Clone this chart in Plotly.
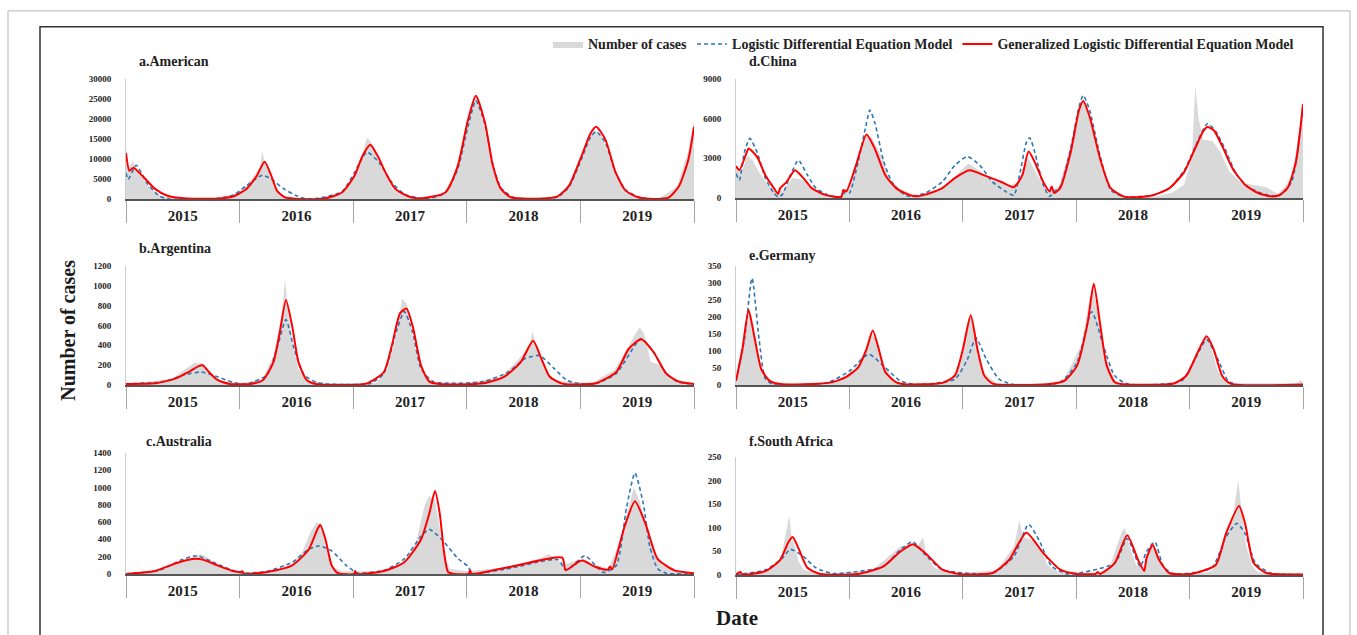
import plotly.graph_objects as go

# ---------------- data (t = years since start of 2015) ----------------
YEARS = ["2015", "2016", "2017", "2018", "2019"]

# a. American
a_obs_t = [0.00, 0.03, 0.06, 0.10, 0.15, 0.22, 0.30, 0.40, 0.60, 0.80, 0.95, 1.05, 1.12, 1.18, 1.20, 1.22, 1.25, 1.30, 1.38, 1.50, 1.70, 1.90, 2.00, 2.08, 2.12, 2.15, 2.20, 2.28, 2.35, 2.45, 2.60, 2.80, 2.92, 3.00, 3.06, 3.10, 3.16, 3.23, 3.30, 3.40, 3.60, 3.80, 3.90, 3.97, 4.02, 4.08, 4.12, 4.18, 4.25, 4.32, 4.40, 4.50, 4.70, 4.85, 4.95, 5.00]
a_obs_v = [9000, 8000, 9500, 7000, 5000, 2500, 800, 200, 100, 300, 1200, 3000, 5500, 8000, 12000, 9000, 7000, 3000, 800, 200, 200, 1500, 5000, 11000, 15200, 14500, 11000, 6000, 2500, 700, 200, 1500, 8000, 19000, 26000, 24000, 17000, 7000, 2000, 400, 100, 700, 3500, 8500, 11000, 16000, 17200, 16000, 11000, 5000, 1500, 300, 300, 3000, 12000, 19500]
a_log_t = [0.00, 0.02, 0.09, 0.18, 0.29, 0.37, 0.80, 0.95, 1.06, 1.20, 1.28, 1.39, 1.50, 1.57, 1.65, 1.90, 2.01, 2.12, 2.23, 2.34, 2.45, 2.56, 2.65, 2.81, 2.92, 3.01, 3.08, 3.16, 3.23, 3.30, 3.40, 3.50, 3.80, 3.90, 4.01, 4.09, 4.14, 4.22, 4.31, 4.40, 4.51, 4.60]
a_log_v = [6500, 4900, 8400, 4100, 800, 0, 100, 1000, 3300, 5900, 4900, 2500, 800, 100, 0, 1800, 6500, 11700, 9000, 4100, 1200, 300, 0, 1500, 7500, 18000, 24600, 18500, 8500, 2800, 500, 0, 500, 3000, 10000, 15500, 16800, 14000, 6500, 2200, 500, 0]
a_glog_t = [0.00, 0.03, 0.066, 0.146, 0.255, 0.365, 0.51, 0.80, 0.95, 1.06, 1.15, 1.22, 1.28, 1.33, 1.40, 1.53, 1.75, 1.90, 2.01, 2.08, 2.15, 2.21, 2.30, 2.37, 2.48, 2.59, 2.81, 2.92, 3.01, 3.08, 3.16, 3.23, 3.30, 3.39, 3.54, 3.80, 3.90, 4.01, 4.09, 4.14, 4.22, 4.31, 4.40, 4.51, 4.64, 4.78, 4.87, 4.95, 5.00]
a_glog_v = [11500, 7000, 7800, 5700, 2500, 800, 150, 50, 650, 2500, 5700, 9300, 5700, 2000, 400, 0, 100, 1600, 5700, 10600, 13500, 11000, 5700, 2500, 700, 100, 1600, 8200, 19700, 25800, 19000, 8200, 2500, 400, 50, 650, 3300, 10700, 16400, 18000, 14800, 6600, 2000, 400, 0, 400, 3300, 9800, 18000]

# b. Argentina
b_obs_t = [0.00, 0.40, 0.55, 0.60, 0.68, 0.72, 0.80, 1.00, 1.20, 1.30, 1.37, 1.40, 1.43, 1.47, 1.52, 1.60, 1.80, 2.20, 2.30, 2.38, 2.43, 2.47, 2.52, 2.60, 2.70, 3.00, 3.30, 3.45, 3.55, 3.58, 3.62, 3.70, 3.80, 4.10, 4.30, 4.45, 4.52, 4.56, 4.62, 4.70, 4.80, 4.88, 4.95, 5.00]
b_obs_v = [10, 60, 180, 220, 215, 150, 50, 15, 60, 300, 700, 1060, 700, 400, 150, 40, 20, 20, 150, 500, 870, 820, 500, 150, 30, 20, 80, 250, 400, 540, 350, 130, 40, 20, 150, 450, 580, 520, 230, 200, 60, 50, 30, 10]
b_log_t = [0.00, 0.33, 0.51, 0.66, 0.805, 0.95, 1.06, 1.24, 1.335, 1.408, 1.48, 1.57, 1.68, 1.756, 2.15, 2.27, 2.376, 2.45, 2.524, 2.597, 2.707, 3.145, 3.365, 3.51, 3.64, 3.77, 3.877, 3.987, 4.13, 4.316, 4.535, 4.645, 4.755, 4.865, 5.00]
b_log_v = [10, 33, 99, 130, 82, 23, 10, 99, 395, 658, 362, 99, 23, 10, 15, 115, 526, 740, 526, 164, 33, 33, 130, 263, 296, 164, 50, 13, 10, 115, 467, 329, 115, 26, 10]
b_glog_t = [0.00, 0.256, 0.44, 0.55, 0.64, 0.677, 0.73, 0.805, 0.914, 1.097, 1.207, 1.298, 1.353, 1.408, 1.463, 1.518, 1.59, 1.68, 2.12, 2.27, 2.34, 2.413, 2.469, 2.524, 2.597, 2.67, 2.78, 3.145, 3.328, 3.475, 3.584, 3.657, 3.73, 3.84, 4.133, 4.316, 4.425, 4.535, 4.645, 4.755, 4.865, 5.00]
b_glog_v = [10, 16, 66, 130, 190, 197, 130, 50, 10, 10, 50, 230, 526, 855, 590, 230, 50, 7, 16, 130, 395, 723, 770, 590, 197, 33, 7, 16, 82, 230, 445, 263, 82, 13, 16, 130, 362, 460, 329, 115, 33, 10]

# c. Australia
c_obs_t = [0.00, 0.30, 0.50, 0.60, 0.66, 0.70, 0.75, 0.85, 1.00, 1.30, 1.45, 1.55, 1.63, 1.68, 1.72, 1.76, 1.80, 1.90, 2.05, 2.30, 2.45, 2.55, 2.63, 2.67, 2.72, 2.76, 2.80, 2.85, 3.00, 3.30, 3.50, 3.65, 3.72, 3.78, 3.85, 3.95, 4.05, 4.15, 4.25, 4.35, 4.43, 4.47, 4.52, 4.57, 4.60, 4.65, 4.72, 4.85, 5.00]
c_obs_v = [5, 50, 150, 200, 230, 200, 160, 80, 20, 30, 100, 250, 500, 600, 560, 300, 100, 30, 30, 40, 150, 350, 800, 900, 860, 500, 200, 60, 30, 70, 120, 180, 230, 180, 100, 150, 150, 100, 60, 400, 800, 1000, 850, 600, 460, 250, 100, 30, 10]
c_log_t = [0.00, 0.293, 0.475, 0.62, 0.768, 0.914, 1.024, 1.243, 1.463, 1.61, 1.70, 1.81, 1.938, 2.02, 2.048, 2.27, 2.45, 2.597, 2.67, 2.78, 2.926, 3.018, 3.036, 3.438, 3.62, 3.80, 3.877, 4.04, 4.133, 4.206, 4.316, 4.407, 4.48, 4.554, 4.61, 4.68, 4.755, 5.00]
c_log_v = [0, 41, 154, 210, 135, 53, 11, 30, 135, 285, 323, 266, 98, 22, 8, 41, 173, 435, 515, 398, 173, 79, 8, 79, 135, 165, 49, 210, 98, 15, 98, 773, 1167, 810, 323, 60, 8, 0]
c_glog_t = [0.00, 0.256, 0.44, 0.585, 0.677, 0.805, 0.95, 1.01, 1.024, 1.04, 1.243, 1.463, 1.61, 1.683, 1.71, 1.756, 1.81, 1.865, 2.01, 2.017, 2.03, 2.27, 2.45, 2.597, 2.67, 2.72, 2.762, 2.80, 2.835, 2.89, 3.018, 3.03, 3.04, 3.438, 3.84, 3.87, 3.987, 4.023, 4.133, 4.243, 4.26, 4.28, 4.389, 4.48, 4.572, 4.68, 4.828, 5.00]
c_glog_v = [0, 34, 124, 173, 165, 98, 30, 22, 30, 0, 22, 98, 285, 510, 567, 398, 98, 8, 0, 34, 0, 34, 135, 398, 698, 960, 698, 248, 22, 0, 0, 41, 0, 98, 188, 41, 143, 154, 79, 49, 86, 53, 548, 840, 585, 173, 41, 8]

# d. China
d_obs_t = [0.00, 0.05, 0.10, 0.15, 0.20, 0.28, 0.35, 0.42, 0.50, 0.58, 0.65, 0.75, 0.90, 1.00, 1.08, 1.15, 1.20, 1.28, 1.35, 1.45, 1.60, 1.80, 1.95, 2.05, 2.12, 2.25, 2.40, 2.50, 2.58, 2.65, 2.75, 2.85, 2.95, 3.03, 3.07, 3.12, 3.20, 3.30, 3.45, 3.70, 3.85, 3.95, 4.02, 4.05, 4.08, 4.12, 4.20, 4.27, 4.35, 4.45, 4.55, 4.68, 4.78, 4.90, 5.00]
d_obs_v = [2500, 2000, 3200, 2800, 2000, 1000, 400, 600, 1500, 1400, 800, 300, 100, 800, 3000, 4800, 4500, 3200, 1500, 600, 200, 600, 1800, 2600, 2200, 1400, 900, 1200, 3000, 1800, 400, 900, 4000, 7000, 7300, 6000, 3000, 600, 100, 100, 400, 1000, 3000, 8400, 6000, 4400, 4300, 3500, 2000, 1200, 1000, 800, 300, 1500, 7000]
d_log_t = [0.00, 0.03, 0.074, 0.122, 0.186, 0.26, 0.334, 0.371, 0.408, 0.48, 0.55, 0.63, 0.705, 0.817, 0.928, 0.965, 1.00, 1.076, 1.151, 1.18, 1.225, 1.30, 1.373, 1.448, 1.522, 1.67, 1.82, 1.93, 2.04, 2.15, 2.26, 2.376, 2.45, 2.506, 2.56, 2.59, 2.635, 2.71, 2.765, 2.81, 2.86, 2.95, 3.025, 3.062, 3.118, 3.21, 3.304, 3.415, 3.675, 3.823, 3.953, 4.046, 4.157, 4.23, 4.306, 4.417, 4.53, 4.677, 4.788, 4.90, 5.00]
d_log_v = [1840, 1350, 3440, 4500, 3440, 1475, 370, 70, 250, 1720, 2850, 1720, 740, 200, 50, 490, 370, 2700, 5660, 6640, 5660, 2830, 1230, 490, 120, 370, 1230, 2460, 3120, 2460, 1230, 490, 200, 1970, 4180, 4550, 3440, 980, 120, 490, 860, 3690, 6890, 7750, 6640, 3200, 615, 120, 200, 740, 2090, 3810, 5610, 5040, 3810, 1720, 740, 250, 170, 1230, 7000]
d_glog_t = [0.00, 0.03, 0.093, 0.111, 0.186, 0.26, 0.334, 0.371, 0.39, 0.445, 0.52, 0.594, 0.668, 0.78, 0.928, 0.947, 0.973, 1.058, 1.151, 1.225, 1.318, 1.411, 1.522, 1.578, 1.67, 1.819, 1.93, 2.06, 2.19, 2.339, 2.45, 2.524, 2.58, 2.635, 2.71, 2.765, 2.784, 2.806, 2.858, 2.951, 3.025, 3.062, 3.118, 3.211, 3.304, 3.415, 3.526, 3.675, 3.823, 3.953, 4.046, 4.12, 4.157, 4.213, 4.287, 4.38, 4.491, 4.603, 4.714, 4.788, 4.863, 4.937, 5.00]
d_glog_v = [2400, 2100, 3400, 3740, 3100, 1700, 740, 300, 740, 1200, 2090, 1500, 740, 250, 70, 600, 500, 2460, 4800, 3700, 1700, 740, 250, 120, 250, 740, 1500, 2090, 1700, 1200, 810, 1700, 3500, 2700, 1200, 490, 860, 370, 740, 3440, 6640, 7330, 6150, 2950, 740, 120, 50, 200, 740, 1970, 3690, 5040, 5360, 5110, 3930, 2210, 980, 370, 120, 200, 740, 2700, 7080]

# e. Germany
e_obs_t = [0.00, 0.05, 0.10, 0.13, 0.17, 0.22, 0.30, 0.50, 0.90, 1.05, 1.15, 1.20, 1.24, 1.30, 1.40, 1.50, 1.80, 1.90, 2.00, 2.05, 2.09, 2.13, 2.20, 2.30, 2.80, 2.90, 3.05, 3.12, 3.15, 3.20, 3.26, 3.35, 3.45, 3.90, 4.00, 4.10, 4.14, 4.18, 4.25, 4.35, 4.95, 4.98, 5.00]
e_obs_v = [10, 100, 200, 210, 120, 40, 10, 3, 10, 50, 110, 150, 130, 60, 10, 3, 5, 20, 90, 200, 190, 90, 30, 5, 3, 20, 120, 260, 280, 200, 80, 10, 2, 5, 40, 120, 150, 120, 40, 5, 5, 15, 5]
e_log_t = [0.00, 0.074, 0.141, 0.204, 0.26, 0.334, 0.817, 1.00, 1.17, 1.30, 1.448, 1.596, 1.93, 2.04, 2.116, 2.208, 2.32, 2.45, 2.86, 3.007, 3.137, 3.25, 3.34, 3.45, 3.93, 4.046, 4.15, 4.25, 4.34, 4.417]
e_log_v = [12, 133, 314, 133, 17, 1, 8, 41, 90, 56, 12, 1, 17, 75, 138, 75, 17, 1, 8, 66, 215, 104, 27, 3, 12, 75, 133, 75, 12, 1]
e_glog_t = [0.00, 0.056, 0.111, 0.167, 0.223, 0.297, 0.41, 0.817, 0.965, 1.076, 1.15, 1.206, 1.26, 1.318, 1.41, 1.485, 1.82, 1.93, 2.00, 2.07, 2.13, 2.19, 2.264, 2.747, 2.895, 3.007, 3.10, 3.155, 3.21, 3.27, 3.34, 3.415, 3.86, 3.97, 4.083, 4.15, 4.213, 4.287, 4.36, 5.00]
e_glog_v = [12, 104, 220, 133, 46, 12, 2, 6, 22, 51, 104, 160, 104, 37, 8, 2, 6, 27, 104, 205, 104, 27, 4, 2, 12, 56, 181, 297, 181, 56, 8, 2, 4, 27, 104, 143, 104, 27, 4, 1]

# f. South Africa
f_obs_t = [0.00, 0.30, 0.40, 0.44, 0.47, 0.49, 0.52, 0.55, 0.60, 0.80, 1.20, 1.35, 1.45, 1.55, 1.60, 1.65, 1.68, 1.75, 1.90, 2.30, 2.45, 2.50, 2.53, 2.60, 2.68, 2.75, 2.85, 3.20, 3.30, 3.40, 3.43, 3.47, 3.53, 3.60, 3.66, 3.70, 3.77, 3.85, 4.15, 4.20, 4.30, 4.38, 4.43, 4.46, 4.50, 4.55, 4.60, 5.00]
f_obs_v = [2, 10, 40, 90, 125, 80, 60, 30, 10, 2, 10, 40, 60, 65, 60, 80, 40, 15, 2, 10, 60, 115, 80, 75, 60, 20, 5, 5, 20, 90, 100, 60, 20, 20, 70, 50, 10, 3, 5, 10, 70, 120, 200, 130, 60, 20, 5, 2]
f_log_t = [0.00, 0.26, 0.408, 0.48, 0.594, 0.705, 0.854, 1.30, 1.448, 1.56, 1.67, 1.82, 2.264, 2.45, 2.58, 2.673, 2.784, 2.93, 3.34, 3.45, 3.564, 3.62, 3.694, 3.768, 3.86, 4.195, 4.32, 4.417, 4.49, 4.58, 4.714, 5.00]
f_log_v = [0, 11, 35, 54, 39, 15, 3, 18, 53, 70, 42, 11, 4, 39, 107, 73, 18, 2, 25, 77, 18, 49, 70, 18, 2, 15, 80, 109, 87, 25, 4, 1]
f_glog_t = [0.00, 0.037, 0.056, 0.26, 0.39, 0.464, 0.50, 0.557, 0.63, 0.742, 1.076, 1.30, 1.448, 1.56, 1.67, 1.82, 1.967, 2.264, 2.41, 2.56, 2.71, 2.86, 3.007, 3.17, 3.19, 3.21, 3.34, 3.45, 3.545, 3.60, 3.62, 3.675, 3.73, 3.82, 4.01, 4.23, 4.32, 4.436, 4.49, 4.565, 4.677, 5.00]
f_glog_v = [1, 6, 1, 8, 32, 70, 80, 53, 15, 2, 2, 18, 49, 65, 46, 11, 2, 4, 32, 89, 46, 11, 2, 2, 6, 2, 25, 84, 32, 8, 35, 63, 32, 4, 2, 21, 87, 146, 108, 25, 4, 1]

PANELS = [
    ("a.American", a_obs_t, a_obs_v, a_log_t, a_log_v, a_glog_t, a_glog_v, 30000, 5000),
    ("b.Argentina", b_obs_t, b_obs_v, b_log_t, b_log_v, b_glog_t, b_glog_v, 1200, 200),
    ("c.Australia", c_obs_t, c_obs_v, c_log_t, c_log_v, c_glog_t, c_glog_v, 1400, 200),
    ("d.China", d_obs_t, d_obs_v, d_log_t, d_log_v, d_glog_t, d_glog_v, 9000, 3000),
    ("e.Germany", e_obs_t, e_obs_v, e_log_t, e_log_v, e_glog_t, e_glog_v, 350, 50),
    ("f.South Africa", f_obs_t, f_obs_v, f_log_t, f_log_v, f_glog_t, f_glog_v, 250, 50),
]

# ---------------- layout geometry (pixels in a 1357x635 page) ----------------
W, H = 1357, 635
def px(x): return x / W
def py(y): return 1 - y / H

X_DOM = {0: [px(126), px(694)], 1: [px(736), px(1303)]}
Y_DOM = [
    [py(197), py(75)], [py(386), py(265)], [py(578), py(455)],   # a, b, c
    [py(196), py(75)], [py(386), py(265)], [py(579), py(459)],   # d, e, f
]
TITLE_POS = [(137, 57), (137, 247), (144, 443), (747, 57), (747, 255), (747, 443)]

SERIF = "Liberation Serif"
BLUE = "#2e75b6"
RED = "#ff0000"
GREY = "#d9d9d9"

fig = go.Figure()
layout = dict(
    width=W, height=H, margin=dict(l=0, r=0, t=0, b=0),
    paper_bgcolor="white", plot_bgcolor="white",
    font=dict(family=SERIF, color="#222222"),
    showlegend=True,
    legend=dict(orientation="h", x=px(548), y=py(40), xanchor="left", yanchor="middle",
                font=dict(family=SERIF, size=14, weight="bold", color="#222222"),
                bgcolor="rgba(0,0,0,0)", traceorder="normal"),
    annotations=[], shapes=[],
)

for i, (title, ot, ov, lt, lv, gt, gv, ymax, dtick) in enumerate(PANELS):
    k = i + 1
    col = 0 if i < 3 else 1
    xa, ya = f"x{k}", f"y{k}"
    first = (i == 0)
    fig.add_trace(go.Scatter(
        x=[2015 + t for t in ot], y=ov, mode="lines", fill="tozeroy", fillcolor=GREY,
        line=dict(width=0, color=GREY), name="Number of cases", legendgroup="obs",
        showlegend=first, xaxis=xa, yaxis=ya, hoverinfo="skip"))
    fig.add_trace(go.Scatter(
        x=[2015 + t for t in lt], y=lv, mode="lines",
        line=dict(width=1.6, color=BLUE, dash="4px,3px", shape="spline", smoothing=0.6),
        name="Logistic Differential Equation Model", legendgroup="log",
        showlegend=first, xaxis=xa, yaxis=ya))
    fig.add_trace(go.Scatter(
        x=[2015 + t for t in gt], y=gv, mode="lines",
        line=dict(width=2, color=RED, shape="spline", smoothing=0.6),
        name="Generalized Logistic Differential Equation Model", legendgroup="glog",
        showlegend=first, xaxis=xa, yaxis=ya))

    axname = "" if k == 1 else str(k)
    layout[f"xaxis{axname}"] = dict(
        domain=X_DOM[col], anchor=ya, range=[2015, 2020],
        tickmode="array", tickvals=[2015.5 + j for j in range(len(YEARS))], ticktext=YEARS,
        ticks="", showgrid=False, zeroline=False,
        showline=True, linecolor="#555555", linewidth=1.5,
        tickfont=dict(family=SERIF, size=15, weight="bold", color="#222222"),
        ticklabelstandoff=2,
        minor=dict(tickvals=[2015 + j for j in range(len(YEARS) + 1)], ticks="outside",
                   ticklen=22, tickwidth=1, tickcolor="#a6a6a6", showgrid=False),
    )
    layout[f"yaxis{axname}"] = dict(
        domain=Y_DOM[i], anchor=xa, range=[0, ymax],
        tickmode="linear", tick0=0, dtick=dtick, ticks="", tickformat="d",
        showgrid=False, zeroline=False,
        showline=True, linecolor="#cccccc", linewidth=1,
        tickfont=dict(family=SERIF, size=9, weight="bold", color="#222222"),
        ticklabelstandoff=12,
    )
    tx, ty = TITLE_POS[i]
    layout["annotations"].append(dict(
        text=title, x=px(tx), y=py(ty), xref="paper", yref="paper",
        xanchor="left", yanchor="middle", showarrow=False,
        font=dict(family=SERIF, size=14, weight="bold", color="#222222")))

layout["annotations"].append(dict(
    text="Number of cases", x=px(68), y=py(331), xref="paper", yref="paper",
    textangle=-90, showarrow=False, xanchor="center", yanchor="middle",
    font=dict(family=SERIF, size=20, weight="bold", color="#1a1a1a")))
layout["annotations"].append(dict(
    text="Date", x=px(737), y=py(623), xref="paper", yref="paper",
    showarrow=False, xanchor="center", yanchor="middle",
    font=dict(family=SERIF, size=21, weight="bold", color="#1a1a1a")))

# decorative page frames
layout["shapes"].append(dict(type="rect", xref="paper", yref="paper",
                             x0=px(8), x1=px(1350), y0=-0.1, y1=py(6),
                             line=dict(color="#b5b5b5", width=1)))
layout["shapes"].append(dict(type="rect", xref="paper", yref="paper",
                             x0=px(40), x1=px(1323), y0=-0.1, y1=py(22),
                             line=dict(color="#333333", width=1.5)))

fig.update_layout(**layout)
fig.write_html("out.html")
